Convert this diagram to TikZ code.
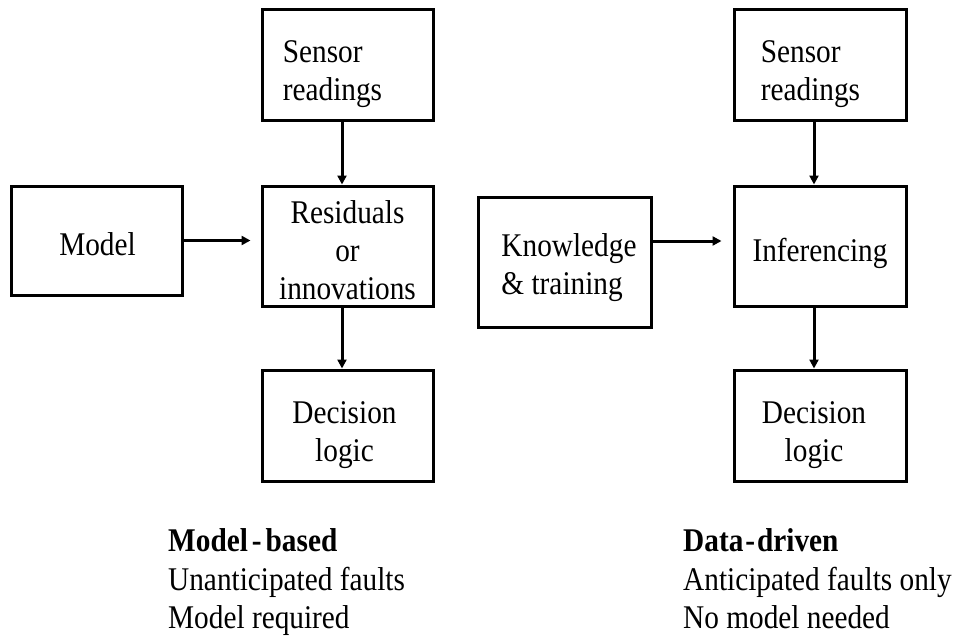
\documentclass[tikz,border=0pt]{standalone}
\usepackage{fontspec}
\setmainfont{Liberation Serif}[FakeStretch=0.885]
\usetikzlibrary{arrows.meta}
\begin{document}
\begin{tikzpicture}[x=1pt,y=-1pt,
  box/.style={draw, line width=3pt, inner sep=0pt},
  txt/.style={font=\fontsize{33.1pt}{38pt}\selectfont, inner sep=0pt},
  flow/.style={line width=3pt, -{Triangle[length=9pt,width=9pt]}},
]
\useasboundingbox (0,0) rectangle (958,642);

% model-based chain
\node[box, minimum width=171pt, minimum height=110pt,
  label={[txt, align=left, xshift=-15pt, yshift=-9pt]center:{Sensor\\readings}}]
  (sensL) at (347.5,65) {};
\node[box, minimum width=171pt, minimum height=120pt,
  label={[txt, align=center, yshift=-4.2pt]center:{Residuals\\or\\innovations}}]
  (resL) at (347.5,246) {};
\node[box, minimum width=171pt, minimum height=111pt,
  label={[txt, align=center, xshift=-3pt, yshift=-9.5pt]center:{Decision\\logic}}]
  (decL) at (347.5,425.5) {};
\node[box, minimum width=171pt, minimum height=109pt,
  label={[txt, xshift=1pt, yshift=-3.2pt]center:Model}]
  (model) at (96.5,240.5) {};

% data-driven chain
\node[box, minimum width=172pt, minimum height=110pt,
  label={[txt, align=left, xshift=-9.5pt, yshift=-9pt]center:{Sensor\\readings}}]
  (sensR) at (820,65) {};
\node[box, minimum width=172pt, minimum height=120pt,
  label={[txt, yshift=-7.3pt]center:Inferencing}]
  (inf) at (820,246) {};
\node[box, minimum width=172pt, minimum height=111pt,
  label={[txt, align=center, xshift=-6pt, yshift=-9.5pt]center:{Decision\\logic}}]
  (decR) at (820,425.5) {};
\node[box, minimum width=173pt, minimum height=130pt,
  label={[txt, align=left, xshift=4.5pt, yshift=-5.8pt]center:{Knowledge\\\& training}}]
  (know) at (564.5,262) {};

% connectors
\draw[flow] ([xshift=-5.5pt]sensL.south) -- ([xshift=-5.5pt]resL.north);
\draw[flow] ([xshift=-5.5pt]resL.south) -- ([xshift=-5.5pt]decL.north);
\draw[flow, shorten >=10pt] (model.east) -- (model.east -| resL.west);
\draw[flow] ([xshift=-6pt]sensR.south) -- ([xshift=-6pt]inf.north);
\draw[flow] ([xshift=-6pt]inf.south) -- ([xshift=-6pt]decR.north);
\draw[flow, shorten >=11pt] ([yshift=21pt]know.east) -- ([yshift=21pt]know.east -| inf.west);

% captions
\node[txt, font=\fontsize{33.1pt}{38.5pt}\selectfont, align=left, anchor=north west]
  (capL) at (168,528.5)
  {\textbf{Model\kern4pt-\kern4pt based}\\Unanticipated faults\\Model required};
\node[txt, font=\fontsize{33.1pt}{38.5pt}\selectfont, align=left, anchor=north west]
  (capR) at (683,528.5)
  {\textbf{Data\kern2pt-\kern2pt driven}\\Anticipated faults only\\No model needed};
\end{tikzpicture}
\end{document}
